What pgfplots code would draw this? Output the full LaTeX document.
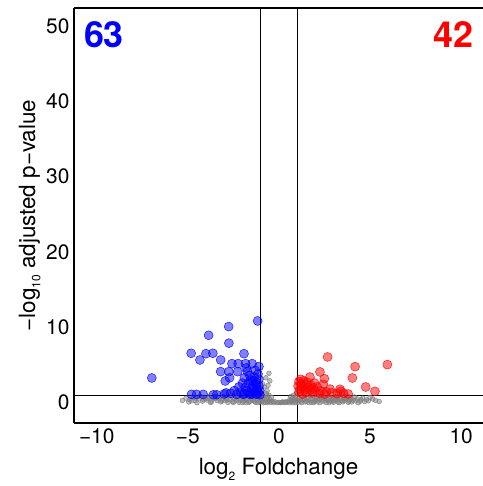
\documentclass[border=0pt]{standalone}
\usepackage{fontspec}
\setmainfont{TeX Gyre Heros}
\usepackage{pgfplots}
\pgfplotsset{compat=1.18}
\begin{document}
\begin{tikzpicture}
\begin{axis}[name=ax, scale only axis, width=409bp, height=415bp,
  xmin=-11.25, xmax=11.2, ymin=-2.7, ymax=52.4,
  axis x line*=bottom, axis y line*=left,
  axis line style={line width=1.6bp},
  xtick={-10,-5,0,5,10}, xticklabels={−10,−5,0,5,10},
  ytick={0,10,20,30,40,50}, yticklabels={0,10,20,30,40,50},
  major tick length=0pt,
  tick label style={font=\fontsize{21}{21}\selectfont},
  xticklabel style={yshift=-2bp},
  yticklabel style={xshift=-1bp},
  /pgf/number format/assume math mode=true,
  xlabel={log\raisebox{-0.45ex}{\fontsize{12}{12}\selectfont 2} Foldchange},
  ylabel={−log\raisebox{-0.45ex}{\fontsize{12}{12}\selectfont 10} adjusted p−value},
  label style={font=\fontsize{22.5}{22.5}\selectfont},
  xlabel style={at={(axis description cs:0.5,-0.125)}, anchor=base},
  ylabel style={at={(axis description cs:-0.095,0.5)}, anchor=base},
  clip=false]
% grey (not significant)
\addplot[only marks, mark=*, mark size=2.4bp, color=gray, mark options={draw=none, fill=gray, fill opacity=0.5}] coordinates {
(-5.1,0.6) (-4.9,0.4) (-4.7,0.7) (-4.6,0.3) (-4.4,0.5) (-4.3,0.8) (-4.2,0.2) (-4.05,0.6)
(-3.95,0.35) (-3.85,0.75) (-3.7,0.15) (-3.6,0.5) (-3.5,0.85) (-3.4,0.3) (-3.3,0.6) (-3.2,0.1) (-3.1,0.45) (-3.05,0.8)
(-2.95,0.25) (-2.9,0.6) (-2.8,0.05) (-2.7,0.4) (-2.6,0.8) (-2.55,0.15) (-2.45,0.55) (-2.35,0.3) (-2.25,0.9) (-2.2,0.05) (-2.1,0.5) (-2.05,0.75)
(-1.95,0.2) (-1.9,0.6) (-1.8,0.0) (-1.75,0.4) (-1.7,0.85) (-1.6,0.15) (-1.55,0.55) (-1.45,0.3) (-1.4,0.9) (-1.3,0.05) (-1.25,0.6) (-1.2,0.35) (-1.1,0.8) (-1.05,0.1) (-1.0,0.5)
(-0.95,1.3) (-0.9,0.3) (-0.85,0.9) (-0.8,2.1) (-0.75,0.05) (-0.7,0.6) (-0.65,1.6) (-0.6,0.2) (-0.55,3.9) (-0.55,1.0) (-0.5,2.9) (-0.5,0.4) (-0.45,0.05) (-0.4,0.7) (-0.35,0.2) (-0.3,0.0) (-0.2,0.1) (-0.1,0.0) (0,0.05) (-0.9,2.5) (-0.7,1.2)
(0.1,0.0) (0.2,0.1) (0.3,0.0) (0.4,0.05) (0.5,0.15) (0.6,0.4) (0.65,0.8) (0.7,0.1) (0.75,0.55) (0.8,1.0) (0.85,0.25) (0.9,0.7) (0.95,1.2) (1.0,0.35)
(1.05,0.05) (1.1,0.6) (1.2,0.2) (1.3,0.8) (1.35,0.4) (1.45,0.1) (1.55,0.65) (1.6,0.3) (1.7,0.9) (1.8,0.05) (1.85,0.5) (1.95,0.2)
(2.05,0.7) (2.1,0.1) (2.2,0.4) (2.3,0.85) (2.4,0.2) (2.5,0.55) (2.6,0.0) (2.7,0.35) (2.8,0.75) (2.9,0.15) (2.95,0.5)
(3.05,0.3) (3.15,0.8) (3.25,0.1) (3.35,0.5) (3.45,0.25) (3.55,0.7) (3.65,0.4) (3.75,0.9) (3.85,0.2) (3.95,0.6)
(4.05,0.35) (4.15,0.75) (4.3,0.5) (4.45,0.2) (4.6,0.6) (4.8,0.4) (5.0,0.7) (5.3,0.3)
(-4.95,0.1) (-4.5,0.0) (-4.15,0.4) (-3.75,0.0) (-3.45,0.6) (-3.15,0.25) (-2.85,0.4) (-2.5,0.0) (-2.3,0.6) (-2.15,0.25)
(-2.0,0.0) (-1.85,0.3) (-1.65,0.05) (-1.5,0.45) (-1.35,0.2) (-1.15,0.0) (-0.98,0.15) (-0.85,0.0) (-0.78,0.45) (-0.62,0.0)
(-0.52,0.2) (-0.68,0.9) (-0.88,0.65) (-0.6,2.3) (-0.72,3.3) (0.15,0.05) (0.35,0.1) (0.55,0.0) (0.68,0.25) (0.78,0.0)
(0.88,0.5) (0.92,0.0) (1.15,0.35) (1.25,0.0) (1.4,0.55) (1.5,0.2) (1.65,0.0) (1.75,0.45) (1.9,0.0) (2.0,0.35)
(2.15,0.6) (2.25,0.0) (2.35,0.45) (2.45,0.7) (2.55,0.25) (2.65,0.55) (2.75,0.0) (2.85,0.3) (3.0,0.05) (3.1,0.6)
(3.2,0.4) (3.3,0.0) (3.4,0.65) (3.5,0.1) (3.6,0.3) (3.7,0.55) (3.8,0.05) (3.9,0.4) (4.0,0.1) (4.2,0.25)
(4.35,0.0) (4.5,0.4) (4.7,0.15) (4.9,0.25) (5.15,0.5) (5.5,0.15) (-5.3,0.3) (-4.8,0.25) (-4.55,0.6) (-3.9,0.55)
};
% blue (down)
\addplot[only marks, mark=*, mark size=4.5bp, color=blue, mark options={draw=none, fill=blue, fill opacity=0.5}] coordinates {
(-1.17,10.85) (-2.76,10.1) (-3.86,8.95) (-2.75,7.9) (-4.82,6.56) (-4.01,6.5) (-3.63,6.56) (-4.34,5.67) (-3.2,5.67) (-1.92,6.5)
(-6.98,3.28) (-2.58,5.18) (-2.24,5.18) (-1.83,5.18) (-1.47,5.18) (-3.2,4.12) (-2.75,4.12) (-2.27,4.12) (-1.74,4.12) (-2.95,2.88)
(-2.71,3.3) (-1.43,2.9) (-4.8,1.1) (-4.52,1.1) (-4.16,1.1) (-3.42,1.05) (-2.32,1.1) (-1.96,1.1) (-1.59,1.1) (-1.23,1.1)
(-1.3,4.3) (-1.15,3.8) (-1.6,3.6) (-1.35,3.4) (-1.9,3.3) (-1.1,3.1) (-1.55,3.0) (-1.25,2.7) (-2.0,2.6) (-1.7,2.5)
(-1.4,2.3) (-1.1,2.2) (-2.2,2.1) (-1.85,2.0) (-1.5,1.9) (-1.2,1.8) (-1.05,1.6) (-2.45,1.6) (-1.75,1.55) (-1.35,1.5)
(-2.1,1.4) (-1.6,1.3) (-1.15,1.3) (-2.65,1.25) (-1.9,1.2) (-1.45,1.15) (-3.0,1.15) (-1.1,4.8) (-1.25,2.4) (-2.9,1.3)
(-1.8,4.6) (-3.6,1.05) (-1.05,1.05)
};
% red (up)
\addplot[only marks, mark=*, mark size=4.5bp, color=red, mark options={draw=none, fill=red, fill opacity=0.5}] coordinates {
(2.67,6.07) (5.95,5.05) (4.18,4.78) (2.25,4.08) (4.03,3.28) (2.49,3.19) (1.70,3.41) (2.43,2.44) (4.76,2.08) (5.27,1.5)
(1.19,3.1) (3.35,1.78) (1.1,2.8) (1.35,2.9) (1.55,2.7) (1.2,2.5) (1.45,2.4) (1.75,2.3) (1.05,2.2) (1.3,2.1)
(1.6,2.0) (1.9,1.95) (2.1,2.1) (1.15,1.8) (1.4,1.7) (1.7,1.65) (2.0,1.6) (2.3,1.55) (2.6,1.45) (1.1,1.4)
(1.5,1.35) (1.85,1.3) (2.2,1.25) (2.9,1.3) (3.2,1.2) (3.55,1.25) (3.8,1.15) (2.5,1.15) (1.3,1.15) (3.4,1.5)
(2.8,1.8) (1.95,2.6)
};
% threshold lines
\draw[line width=0.9bp] (axis cs:-1,-2.7) -- (axis cs:-1,52.4);
\draw[line width=0.9bp] (axis cs:1,-2.7) -- (axis cs:1,52.4);
\draw[line width=0.9bp] (axis cs:-11.25,1) -- (axis cs:11.2,1);
% top frame line
\draw[line width=1.6bp] (rel axis cs:0,1) -- (rel axis cs:1,1);
% counts
\node[anchor=west, inner sep=0pt, text=blue, font=\fontsize{36}{36}\selectfont\bfseries] at (axis description cs:0.024,0.936) {63};
\node[anchor=east, inner sep=0pt, text=red, font=\fontsize{36}{36}\selectfont\bfseries] at (axis description cs:0.976,0.936) {42};
\end{axis}
\pgfresetboundingbox
\path ([shift={(-74bp,-63bp)}]ax.south west) rectangle ([shift={(409bp,423bp)}]ax.south west);
\end{tikzpicture}
\end{document}
